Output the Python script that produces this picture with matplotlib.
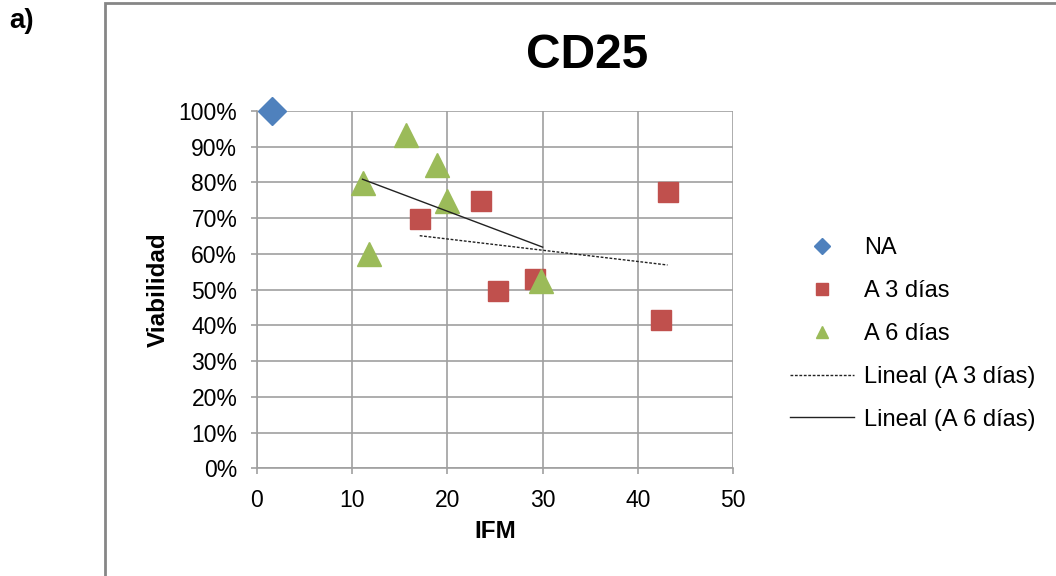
import matplotlib.pyplot as plt
from matplotlib.ticker import PercentFormatter
from matplotlib.patches import Rectangle

plt.rcParams['font.family'] = ['Liberation Sans', 'DejaVu Sans']

# datos
na_x = [1.6]
na_y = [1.00]

a3_x = [17.1, 23.5, 25.3, 29.2, 43.1, 42.4]
a3_y = [0.698, 0.749, 0.497, 0.530, 0.773, 0.415]

a6_x = [15.7, 18.9, 11.1, 20.0, 11.8, 29.8]
a6_y = [0.932, 0.850, 0.799, 0.749, 0.599, 0.524]

# lineas de tendencia (extremos)
lin3_x = [17.1, 43.1]
lin3_y = [0.651, 0.569]
lin6_x = [11.1, 30.0]
lin6_y = [0.809, 0.619]

x_ticks = [0, 10, 20, 30, 40, 50]
y_ticks = [i / 10 for i in range(11)]

azul = '#4F81BD'
rojo = '#C0504D'
verde = '#9BBB59'
gris = '#A0A0A0'

fig = plt.figure(figsize=(10.56, 5.76), dpi=100)
ax = fig.add_axes([256.7 / 1056, 1 - 468.3 / 576, (733.3 - 256.7) / 1056, (468.3 - 111) / 576])

# marco gris de la figura
fig.patches.append(Rectangle((105 / 1056, -0.1), 1.0, 1 - 3 / 576 + 0.1,
                             transform=fig.transFigure, fill=False,
                             edgecolor='#868686', linewidth=2))

ax.plot(na_x, na_y, linestyle='none', marker='D', markersize=14, color=azul,
        label='NA', clip_on=False, zorder=5)
ax.plot(a3_x, a3_y, linestyle='none', marker='s', markersize=15, color=rojo,
        label='A 3 días', zorder=4)
ax.plot(a6_x, a6_y, linestyle='none', marker='^', markersize=17, color=verde,
        label='A 6 días', zorder=4)
ax.plot(lin3_x, lin3_y, linestyle=(0, (2, 1.2)), color='#222222', linewidth=1,
        label='Lineal (A 3 días)', zorder=6)
ax.plot(lin6_x, lin6_y, linestyle='-', color='#222222', linewidth=1,
        label='Lineal (A 6 días)', zorder=6)

ax.set_xlim(0, 50)
ax.set_ylim(0, 1)
ax.set_xticks(x_ticks)
ax.set_yticks(y_ticks)
ax.yaxis.set_major_formatter(PercentFormatter(1.0, decimals=0))
ax.grid(True, color=gris, linewidth=1.2)
ax.set_axisbelow(True)

for s in ['top', 'right']:
    ax.spines[s].set_visible(False)
for s in ['left', 'bottom']:
    ax.spines[s].set_color(gris)
    ax.spines[s].set_linewidth(1.2)

ax.tick_params(axis='y', direction='out', length=4, color=gris, width=1.2,
               labelsize=16.5, pad=10)
ax.tick_params(axis='x', direction='out', length=4, color=gris, width=1.2,
               labelsize=16.5, pad=11)

ax.set_xlabel('IFM', fontsize=17.5, fontweight='bold', labelpad=6)
ax.set_ylabel('Viabilidad', fontsize=17.5, fontweight='bold', labelpad=6)

fig.text(587 / 1056, 1 - 55 / 576, 'CD25', fontsize=34.5, fontweight='bold',
         ha='center', va='center')
fig.text(22 / 1056, 1 - 21 / 576, 'a)', fontsize=20, fontweight='bold',
         ha='center', va='center')

fig.legend(loc='center left', bbox_to_anchor=(790 / 1056, 1 - 334 / 576),
           frameon=False, fontsize=17, markerscale=0.55, handlelength=2.7,
           handletextpad=0.45, labelspacing=0.88, borderaxespad=0, borderpad=0)

fig.savefig('out.png', dpi=100)
